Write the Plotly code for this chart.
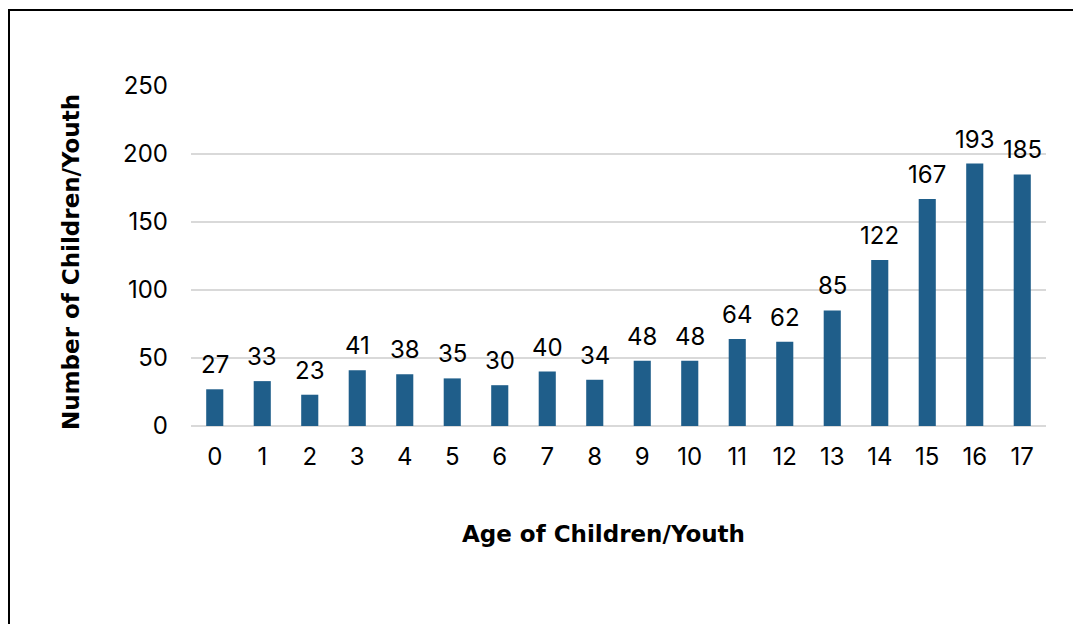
import plotly.graph_objects as go

ages = [str(a) for a in range(18)]
counts = [27, 33, 23, 41, 38, 35, 30, 40, 34, 48, 48, 64, 62, 85, 122, 167, 193, 185]
y_ticks = [0, 50, 100, 150, 200, 250]

W, H = 1073, 624
L, R, T, B = 191, 27, 86, 198
pw, ph = W - L - R, H - T - B

FONT = "Inter, Noto Sans, sans-serif"
TITLE_FONT = "DejaVu Sans, sans-serif"
NUM_SIZE = 24
TITLE_SIZE = 23


def px_x(px):
    """page x pixel -> paper coordinate"""
    return (px - L) / pw


def px_y(py):
    """page y pixel -> paper coordinate"""
    return (H - B - py) / ph


fig = go.Figure(
    go.Bar(
        x=ages,
        y=counts,
        marker=dict(color="#1F5E8A", line=dict(width=0)),
        hoverinfo="x+y",
    )
)

# value labels above each bar
for a, v in zip(ages, counts):
    fig.add_annotation(
        x=a, y=v, text=str(v), showarrow=False,
        yanchor="bottom", yshift=8,
        font=dict(family=FONT, size=NUM_SIZE, color="#000000"),
    )

# axis titles
fig.add_annotation(
    xref="paper", yref="paper", x=px_x(603), y=px_y(534),
    xanchor="center", yanchor="middle", showarrow=False,
    text="<b>Age of Children/Youth</b>",
    font=dict(family=TITLE_FONT, size=TITLE_SIZE, color="#000000"),
)
fig.add_annotation(
    xref="paper", yref="paper", x=px_x(71), y=px_y(262),
    xanchor="center", yanchor="middle", showarrow=False, textangle=-90,
    text="<b>Number of Children/Youth</b>",
    font=dict(family=TITLE_FONT, size=TITLE_SIZE, color="#000000"),
)

# outer frame, extending past the right and bottom of the page
fig.add_shape(
    type="rect", xref="paper", yref="paper",
    x0=px_x(9), x1=px_x(W + 20),
    y0=px_y(H + 20), y1=px_y(10),
    line=dict(color="#000000", width=2), fillcolor="rgba(0,0,0,0)",
    layer="below",
)

fig.update_layout(
    width=W, height=H,
    margin=dict(l=L, r=R, t=T, b=B),
    paper_bgcolor="white", plot_bgcolor="white",
    bargap=0.64,
    showlegend=False,
    font=dict(family=FONT, size=NUM_SIZE, color="#000000"),
    xaxis=dict(
        type="category",
        showgrid=False, zeroline=False, showline=False,
        ticks="", tickfont=dict(size=NUM_SIZE),
        ticklabelstandoff=14,
    ),
    yaxis=dict(
        range=[0, 250],
        tickvals=y_ticks,
        showgrid=True, gridcolor="#D9D9D9", gridwidth=1.5,
        zeroline=True, zerolinecolor="#D9D9D9", zerolinewidth=1.5,
        showline=False, ticks="",
        tickfont=dict(size=NUM_SIZE),
        ticklabelstandoff=22,
    ),
)

fig.write_html("out.html")
